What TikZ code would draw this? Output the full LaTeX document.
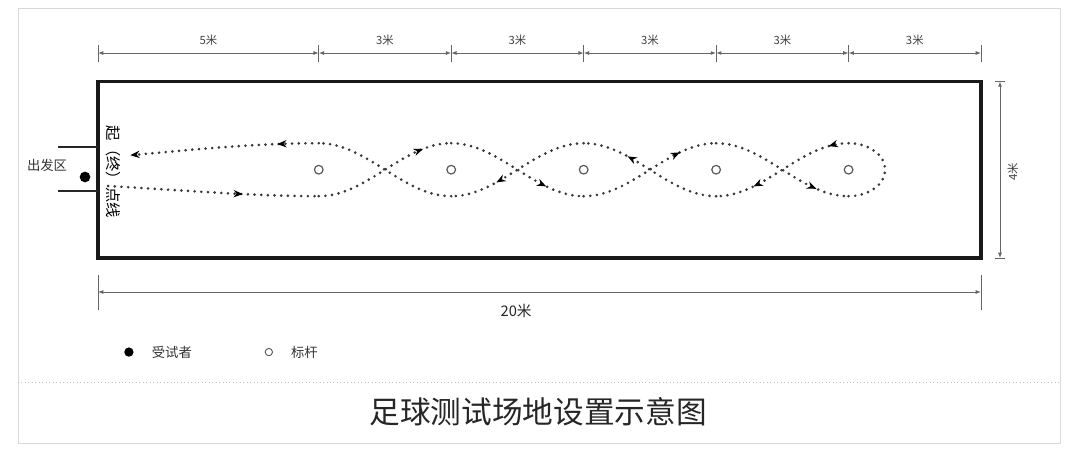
\documentclass[tikz,border=0pt]{standalone}
\usepackage{fontspec}
\newfontfamily\cjk{Noto Sans CJK SC}
\usetikzlibrary{arrows.meta,decorations.markings,positioning}
\tikzset{%
  field/.style    = {draw=black!90, line width=2.4pt},%
  pole/.style     = {circle, draw=black!65, line width=0.9pt,%
                     inner sep=0pt, minimum size=6.5pt},%
  player/.style   = {circle, fill=black, inner sep=0pt, minimum size=8pt},%
  dimline/.style  = {draw=black!60, line width=0.7pt,%
                     {Latex[length=4pt,width=3pt]}-{Latex[length=4pt,width=3pt]}},%
  dimtick/.style  = {draw=black!60, line width=0.7pt},%
  dimlabel/.style = {font=\cjk\fontsize{8.5}{8.5}\selectfont, text=black!75},%
  track/.style    = {draw=black!78, line width=2.2pt, line cap=round,%
                     dash pattern=on 0pt off 5pt},%
  arrowat/.style  = {postaction={decorate, decoration={markings,%
                     mark=at position #1 with {\arrow{Stealth[length=7pt,width=5.5pt,black]}}}}}%
}

\begin{document}
\begin{tikzpicture}[x=1.1638cm, y=1.1638cm]
	\useasboundingbox (-2.2197,-4.439) rectangle (22.242,5.844);
	\draw[black!15, line width=0.6pt] (-1.812,-4.19) rectangle (21.79,5.662);
	\draw[black!25, line width=0.6pt, dotted] (-1.812,-2.809) -- (21.79,-2.809);
	\draw[field] (0,0) rectangle (20,4);
	\coordinate (d0) at (0,4.643);
	\coordinate (d1) at (5,4.643);
	\coordinate (d2) at (8,4.643);
	\coordinate (d3) at (11,4.643);
	\coordinate (d4) at (14,4.643);
	\coordinate (d5) at (17,4.643);
	\coordinate (d6) at (20,4.643);
	\draw[dimtick] ([yshift=-6.8pt]d0) -- ([yshift=6pt]d0);
	\draw[dimtick] ([yshift=-6.8pt]d1) -- ([yshift=6pt]d1);
	\draw[dimtick] ([yshift=-6.8pt]d2) -- ([yshift=6pt]d2);
	\draw[dimtick] ([yshift=-6.8pt]d3) -- ([yshift=6pt]d3);
	\draw[dimtick] ([yshift=-6.8pt]d4) -- ([yshift=6pt]d4);
	\draw[dimtick] ([yshift=-6.8pt]d5) -- ([yshift=6pt]d5);
	\draw[dimtick] ([yshift=-6.8pt]d6) -- ([yshift=6pt]d6);
	\draw[dimline] (d0) -- node[dimlabel, above=2pt] {5米} (d1);
	\draw[dimline] (d1) -- node[dimlabel, above=2pt] {3米} (d2);
	\draw[dimline] (d2) -- node[dimlabel, above=2pt] {3米} (d3);
	\draw[dimline] (d3) -- node[dimlabel, above=2pt] {3米} (d4);
	\draw[dimline] (d4) -- node[dimlabel, above=2pt] {3米} (d5);
	\draw[dimline] (d5) -- node[dimlabel, above=2pt] {3米} (d6);
	\coordinate (r0) at (20.43,4);
	\coordinate (r1) at (20.43,0);
	\draw[dimtick] ([xshift=-4pt]r0) -- ([xshift=4pt]r0);
	\draw[dimtick] ([xshift=-4pt]r1) -- ([xshift=4pt]r1);
	\draw[dimline] (r0) -- (r1);
	\node[dimlabel, rotate=90] (width) at (20.72,1.95) {4米};
	\coordinate (b0) at (0,-0.77);
	\coordinate (b1) at (20,-0.77);
	\draw[dimtick] ([yshift=-13.5pt]b0) -- ([yshift=12.7pt]b0);
	\draw[dimtick] ([yshift=-13.5pt]b1) -- ([yshift=12.7pt]b1);
	\draw[dimline] (b0) -- (b1);
	\node[font=\cjk\fontsize{11}{11}\selectfont, text=black!85] (length) at (9.47,-1.2) {20米};
	\draw[line width=1pt, black!85] (-0.906,2.514) -- (0,2.514);
	\draw[line width=1pt, black!85] (-0.906,1.518) -- (0,1.518);
	\node[font=\cjk\fontsize{10}{10}\selectfont, text=black!80] (zone) at (-1.155,2.106) {出发区};
	\node[player] (tester) at (-0.294,1.835) {};
	\node[rotate=-90, font=\cjk\fontsize{11.5}{11.5}\selectfont] (startline) at (0.34,1.95) {起（终）点线};
	\node[pole] (p1) at (5,2) {};
	\node[pole] (p2) at (8,2) {};
	\node[pole] (p3) at (11,2) {};
	\node[pole] (p4) at (14,2) {};
	\node[pole] (p5) at (17,2) {};
	\draw[track, arrowat=0.64] (0.23,1.63) .. controls (1.6,1.56) and (3.4,1.4) .. (5,1.4);
	\draw[track, arrowat=0.8] (5,1.4) cos (6.5,2) sin (8,2.6);
	\draw[track, arrowat=0.73] (8,2.6) cos (9.5,2) sin (11,1.4);
	\draw[track, arrowat=0.74] (11,1.4) cos (12.5,2) sin (14,2.6);
	\draw[track, arrowat=0.77] (14,2.6) cos (15.5,2) sin (17,1.4);
	\draw[track] (17,1.4) arc[start angle=-90, end angle=90, x radius=0.83, y radius=0.6];
	\draw[track, arrowat=0.14, arrowat=0.73] (17,2.6) cos (15.5,2) sin (14,1.4);
	\draw[track, arrowat=0.68] (14,1.4) cos (12.5,2) sin (11,2.6);
	\draw[track, arrowat=0.67] (11,2.6) cos (9.5,2) sin (8,1.4);
	\draw[track] (8,1.4) cos (6.5,2) sin (5,2.6);
	\draw[track, arrowat=0.22, -{Stealth[length=7pt,width=5.5pt,black]}] (5,2.6) .. controls (3.4,2.6) and (1.6,2.4) .. (0.73,2.33);
	\node[player, minimum size=7pt] (lgtester) at (0.70,-2.13) {};
	\node[right=10pt of lgtester, font=\cjk\fontsize{10}{10}\selectfont, text=black!80] {受试者};
	\node[pole, minimum size=5.5pt, line width=0.7pt] (lgpole) at (3.87,-2.13) {};
	\node[right=10pt of lgpole, font=\cjk\fontsize{10}{10}\selectfont, text=black!80] {标杆};
	\node[font=\cjk\fontsize{23}{23}\selectfont, text=black!85] (title) at (9.97,-3.49) {足球测试场地设置示意图};
\end{tikzpicture}
\end{document}
